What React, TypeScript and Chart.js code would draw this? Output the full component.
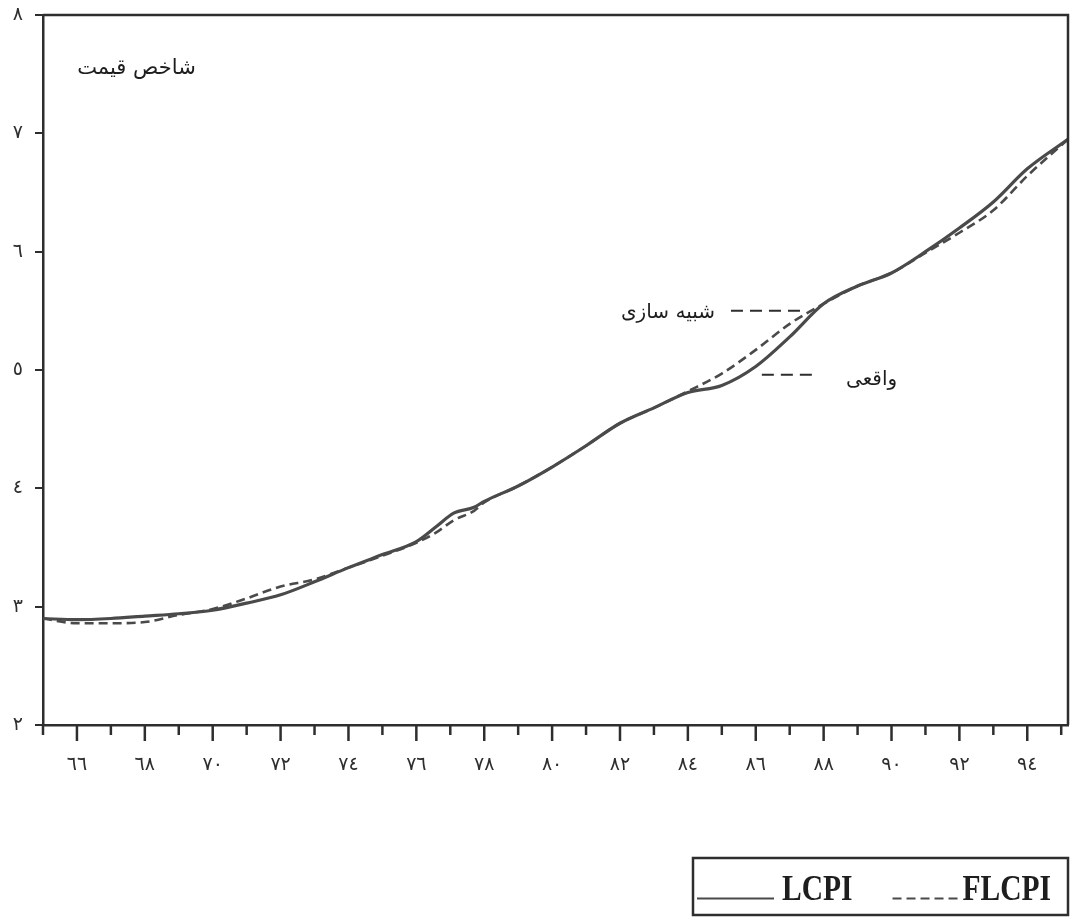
import React, { useEffect, useRef } from "react";
import { Chart, registerables } from "chart.js";

Chart.register(...registerables);

// ---- data (years of the Iranian calendar, 13xx) ----
const YEARS = [65, 66, 67, 68, 69, 70, 71, 72, 73, 74, 75, 76, 76.6, 77.1, 77.7, 78, 79, 80, 81, 82, 83, 84, 85, 86, 87, 88, 89, 90, 91, 92, 93, 94, 95.2];
const LCPI = [2.9, 2.89, 2.9, 2.92, 2.94, 2.97, 3.03, 3.1, 3.21, 3.33, 3.44, 3.55, 3.68, 3.79, 3.84, 3.89, 4.02, 4.18, 4.36, 4.55, 4.68, 4.81, 4.87, 5.03, 5.28, 5.56, 5.71, 5.82, 6.0, 6.2, 6.42, 6.7, 6.95];
const FLCPI = [2.9, 2.86, 2.86, 2.87, 2.93, 2.98, 3.07, 3.17, 3.23, 3.33, 3.43, 3.54, 3.63, 3.73, 3.81, 3.88, 4.02, 4.18, 4.36, 4.55, 4.68, 4.82, 4.97, 5.17, 5.39, 5.56, 5.71, 5.82, 5.99, 6.16, 6.35, 6.64, 6.95];
const SERIES_LABELS = ["LCPI", "FLCPI"];
const X_MIN = 65;
const X_MAX = 95.2;
const Y_MIN = 2;
const Y_MAX = 8;
const AXIS_TITLE = "شاخص قیمت";
const NOTE_SIM = "شبیه سازی";
const NOTE_REAL = "واقعی";

const AR_DIGITS = ["٠", "١", "٢", "٣", "٤", "٥", "٦", "٧", "٨", "٩"];
const toArabic = (n: number) => String(n).replace(/[0-9]/g, (d) => AR_DIGITS[+d]);

const INK = "#2e2e2e";
const LINE = "#4a4a4a";

export default function App() {
  const ref = useRef<HTMLCanvasElement | null>(null);

  useEffect(() => {
    if (!ref.current) return;

    const framePlugin = {
      id: "frame",
      afterDraw(chart: any) {
        const { ctx, chartArea: a, scales } = chart;
        const xs = scales.x;
        const ys = scales.y;
        ctx.save();
        ctx.strokeStyle = INK;
        ctx.lineWidth = 2.5;
        // top and right frame
        ctx.beginPath();
        ctx.moveTo(a.left, a.top);
        ctx.lineTo(a.right, a.top);
        ctx.lineTo(a.right, a.bottom);
        ctx.stroke();
        // x tick marks: long on even years, short on odd years
        for (let v = Math.ceil(X_MIN); v <= Math.floor(X_MAX); v++) {
          const px = xs.getPixelForValue(v);
          const len = v % 2 === 0 ? 16 : 10;
          ctx.beginPath();
          ctx.moveTo(px, a.bottom);
          ctx.lineTo(px, a.bottom + len);
          ctx.stroke();
        }
        // annotations
        ctx.fillStyle = "#1e1e1e";
        ctx.font = '21px "DejaVu Sans", sans-serif';
        ctx.textBaseline = "middle";
        ctx.textAlign = "right";
        ctx.fillText(AXIS_TITLE, xs.getPixelForValue(69.5), ys.getPixelForValue(7.55));
        ctx.font = '20px "DejaVu Sans", sans-serif';
        ctx.fillText(NOTE_SIM, xs.getPixelForValue(84.8), ys.getPixelForValue(5.48));
        ctx.textAlign = "left";
        ctx.fillText(NOTE_REAL, xs.getPixelForValue(88.66), ys.getPixelForValue(4.92));
        ctx.lineWidth = 2;
        ctx.setLineDash([12, 7]);
        ctx.beginPath();
        ctx.moveTo(xs.getPixelForValue(85.27), ys.getPixelForValue(5.5));
        ctx.lineTo(xs.getPixelForValue(87.5), ys.getPixelForValue(5.5));
        ctx.moveTo(xs.getPixelForValue(86.18), ys.getPixelForValue(4.96));
        ctx.lineTo(xs.getPixelForValue(87.8), ys.getPixelForValue(4.96));
        ctx.stroke();
        ctx.setLineDash([]);

        // legend box
        const bx1 = a.right;
        const bx0 = bx1 - 375;
        const by0 = a.bottom + 133;
        const by1 = a.bottom + 190;
        ctx.lineWidth = 2.5;
        ctx.strokeStyle = INK;
        ctx.strokeRect(bx0, by0, bx1 - bx0, by1 - by0);
        const midY = (by0 + by1) / 2 + 2;
        let cx = bx0 + 4;
        const sampleWs = [77, 67];
        const gaps = [40, 0];
        chart.data.datasets.forEach((ds: any, i: number) => {
          ctx.save();
          ctx.strokeStyle = ds.borderColor;
          ctx.lineWidth = 2.2;
          ctx.setLineDash(ds.borderDash && ds.borderDash.length ? [9, 5] : []);
          const sampleW = sampleWs[i];
          ctx.beginPath();
          ctx.moveTo(cx, midY + 10);
          ctx.lineTo(cx + sampleW, midY + 10);
          ctx.stroke();
          ctx.restore();
          cx += sampleW + (i === 0 ? 8 : 3);
          ctx.save();
          ctx.translate(cx, midY);
          ctx.scale(0.82, 1);
          ctx.fillStyle = "#1e1e1e";
          ctx.font = 'bold 36px "Liberation Serif", serif';
          ctx.textAlign = "left";
          ctx.textBaseline = "middle";
          ctx.fillText(ds.label, 0, 2);
          const w = ctx.measureText(ds.label).width * 0.82;
          ctx.restore();
          cx += w + gaps[i];
        });
        ctx.restore();
      },
    };

    const chart = new Chart(ref.current, {
      type: "line",
      data: {
        datasets: [
          {
            label: SERIES_LABELS[0],
            data: YEARS.map((x, i) => ({ x, y: LCPI[i] })),
            borderColor: LINE,
            borderWidth: 3.2,
            pointRadius: 0,
            cubicInterpolationMode: "monotone",
          },
          {
            label: SERIES_LABELS[1],
            data: YEARS.map((x, i) => ({ x, y: FLCPI[i] })),
            borderColor: LINE,
            borderWidth: 2.6,
            borderDash: [9, 5],
            pointRadius: 0,
            cubicInterpolationMode: "monotone",
          },
        ],
      },
      options: {
        animation: false,
        responsive: false,
        maintainAspectRatio: false,
        layout: { padding: { left: 0, top: 15, right: 5, bottom: 132 } },
        plugins: { legend: { display: false }, title: { display: false }, tooltip: { enabled: false } },
        scales: {
          x: {
            type: "linear",
            min: X_MIN,
            max: X_MAX,
            afterFit: (s: any) => {
              s.height = 60;
              s.paddingLeft = 0;
              s.paddingRight = 0;
            },
            border: { display: true, color: INK, width: 2.5 },
            grid: { display: false },
            ticks: {
              stepSize: 1,
              autoSkip: false,
              maxRotation: 0,
              padding: 21,
              color: INK,
              font: { size: 19, family: '"DejaVu Sans", sans-serif' },
              callback: (v: any) => {
                const n = Number(v);
                return Number.isInteger(n) && n % 2 === 0 ? toArabic(n) : "";
              },
            },
          },
          y: {
            min: Y_MIN,
            max: Y_MAX,
            afterFit: (s: any) => {
              s.width = 43;
              s.paddingTop = 0;
              s.paddingBottom = 0;
            },
            border: { display: true, color: INK, width: 2.5 },
            grid: { display: true, drawOnChartArea: false, tickLength: 8, color: INK, lineWidth: 2 },
            ticks: {
              stepSize: 1,
              padding: 12,
              color: INK,
              font: { size: 19, family: '"DejaVu Sans", sans-serif' },
              callback: (v: any) => toArabic(Number(v)),
            },
          },
        },
      },
      plugins: [framePlugin],
    } as any);

    return () => chart.destroy();
  }, []);

  return (
    <div style={{ position: "absolute", left: 0, top: 0, width: 1073, height: 917, background: "#fff" }}>
      <canvas ref={ref} width={1073} height={917} style={{ display: "block" }} />
    </div>
  );
}
